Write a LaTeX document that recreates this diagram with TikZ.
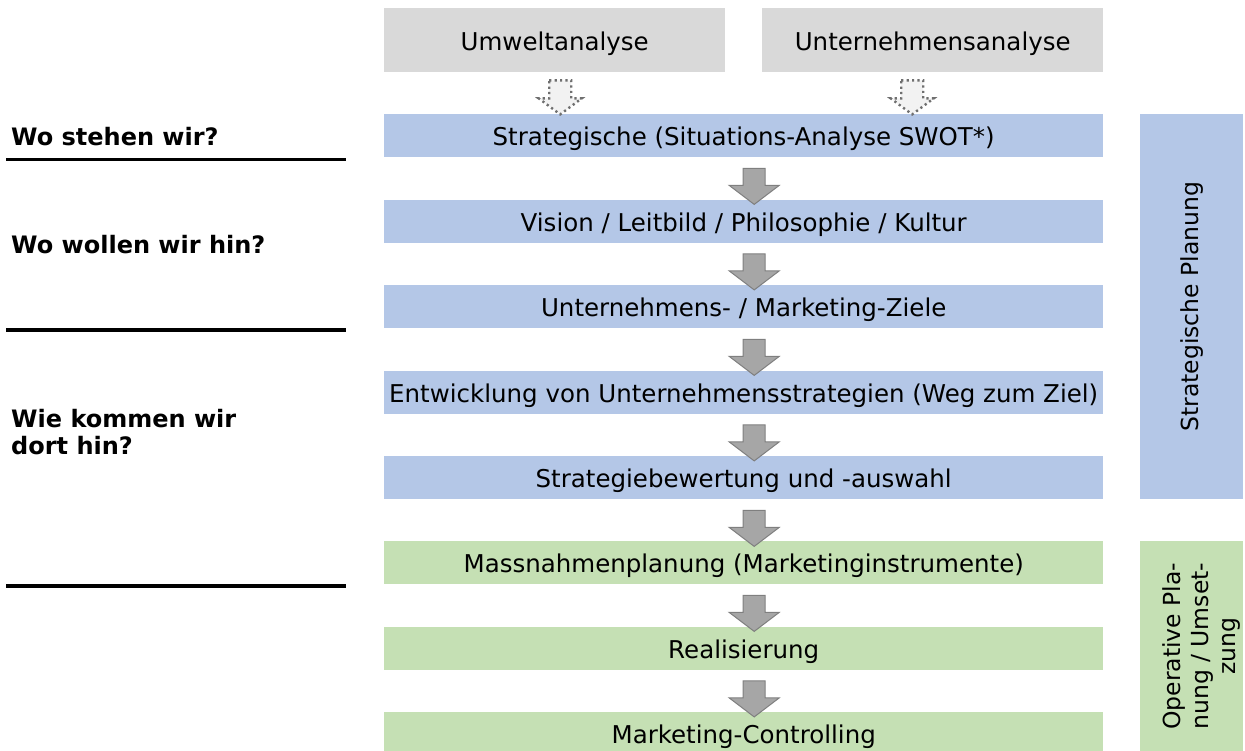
\documentclass[tikz,border=0pt]{standalone}
\usepackage{fontspec}
\setmainfont{DejaVu Sans}
\usetikzlibrary{calc}
\definecolor{boxgray}{HTML}{D9D9D9}
\definecolor{boxblue}{HTML}{B4C7E7}
\definecolor{boxgreen}{HTML}{C5E0B4}
\definecolor{arrfill}{HTML}{A6A6A6}
\definecolor{arrline}{HTML}{7F7F7F}
\definecolor{dotline}{HTML}{6F6F6F}
\definecolor{dotfill}{HTML}{F2F2F2}
\tikzset{
  box/.style={inner sep=0pt, minimum width=719pt, minimum height=43pt, anchor=north west,
    text height=20pt, text depth=0pt, font=\fontsize{24.5}{28}\selectfont},
  topbox/.style={box, fill=boxgray, minimum height=64pt},
  bluebox/.style={box, fill=boxblue},
  greenbox/.style={box, fill=boxgreen},
  sidebox/.style={inner sep=0pt, minimum width=103pt, anchor=north west},
  sidetext/.style={rotate=90, align=center, font=\fontsize{23.5}{27.5}\selectfont, inner sep=0pt},
  question/.style={anchor=base west, inner sep=0pt, align=left, font=\bfseries\fontsize{24}{27}\selectfont},
  sepline/.style={line width=3.5pt, black},
  blockarrow/.style={fill=arrfill, draw=arrline, line width=1pt, line join=miter},
  dotarrow/.style={fill=dotfill, draw=dotline, line width=2.4pt, line cap=butt, dash pattern=on 2.2pt off 3.2pt},
}
\newcommand{\grayarrow}[1]{%
  \draw[blockarrow] ($(#1.south)+(10.5,11)$) ++(-11,0) -- ++(22,0) -- ++(0,17) -- ++(14,0) -- ++(-25,19) -- ++(-25,-19) -- ++(14,0) -- cycle;}
\newcommand{\dottedarrow}[2]{%
  \draw[dotarrow] ($(#1.south)+(#2,8)$) ++(-11,0) -- ++(22,0) -- ++(0,18) -- ++(10.5,0) -- ++(-21.5,16) -- ++(-21.5,-16) -- ++(10.5,0) -- cycle;}
\begin{document}
\begin{tikzpicture}[x=1pt, y=-1pt]
\useasboundingbox (0,0) rectangle (1245,751);
% top boxes
\node[topbox, minimum width=341pt] (u1) at (384,8) {Umweltanalyse};
\node[topbox, minimum width=341pt] (u2) at (762,8) {Unternehmensanalyse};
% main boxes
\node[bluebox] (b1) at (384,114) {Strategische (Situations-Analyse SWOT*)};
\node[bluebox] (b2) at (384,199.5) {Vision / Leitbild / Philosophie / Kultur};
\node[bluebox] (b3) at (384,285) {Unternehmens- / Marketing-Ziele};
\node[bluebox] (b4) at (384,370.5) {Entwicklung von Unternehmensstrategien (Weg zum Ziel)};
\node[bluebox] (b5) at (384,456) {Strategiebewertung und -auswahl};
\node[greenbox] (g1) at (384,541) {Massnahmenplanung (Marketinginstrumente)};
\node[greenbox] (g2) at (384,626.5) {Realisierung};
\node[greenbox] (g3) at (384,712) {Marketing-Controlling};
% dotted arrows
\dottedarrow{u1}{5.5}
\dottedarrow{u2}{-20.5}
% gray arrows
\grayarrow{b1}
\grayarrow{b2}
\grayarrow{b3}
\grayarrow{b4}
\grayarrow{b5}
\grayarrow{g1}
\grayarrow{g2}
% side boxes
\node[sidebox, fill=boxblue, minimum height=385pt] (s1) at (1140,114) {};
\node[sidetext] (s1t) at (s1.center) {Strategische Planung};
\node[sidebox, fill=boxgreen, minimum height=212pt] (s2) at (1140,541) {};
\node[sidetext] (s2t) at ($(s2.center)+(10,-1)$) {Operative Pla-\\nung / Umset-\\zung};
% questions
\node[question] (q1) at (11,146) {Wo stehen wir?};
\node[question] (q2) at (11,254) {Wo wollen wir hin?};
\node[question] (q3) at (11,454) {Wie kommen wir\\dort hin?};
% separators
\coordinate (l1a) at (6,159.5); \coordinate (l1b) at (346,159.5);
\coordinate (l2a) at (6,330); \coordinate (l2b) at (346,330);
\coordinate (l3a) at (6,586); \coordinate (l3b) at (346,586);
\draw[sepline] (l1a) -- (l1b);
\draw[sepline] (l2a) -- (l2b);
\draw[sepline] (l3a) -- (l3b);
\end{tikzpicture}
\end{document}
